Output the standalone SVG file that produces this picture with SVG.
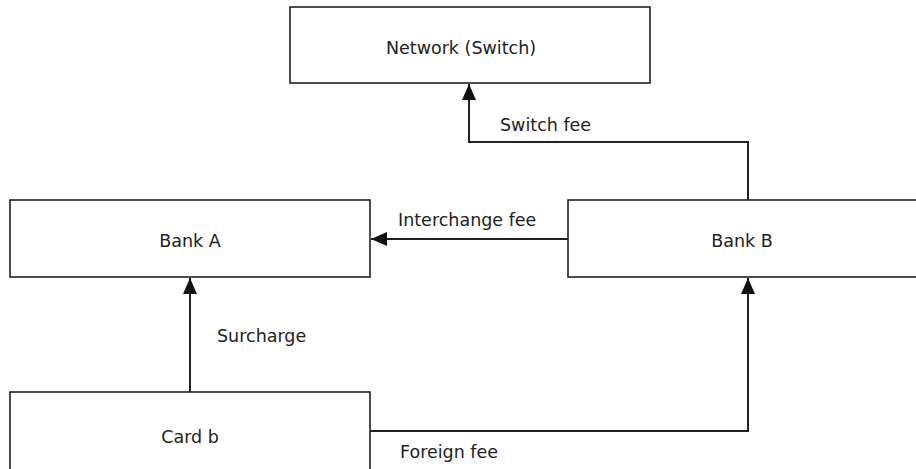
<svg xmlns="http://www.w3.org/2000/svg" width="916" height="469" viewBox="0 0 916 469">
<style>
.box{fill:#fff;stroke:#222;stroke-width:1.6}
.lbl{font-family:"DejaVu Sans",sans-serif;font-size:17.5px;fill:#222}
.mid{text-anchor:middle}
.con{fill:none;stroke:#222;stroke-width:2}
</style>
<defs>
<marker id="ah" viewBox="0 0 16 14" refX="16" refY="7" markerWidth="16" markerHeight="14" markerUnits="userSpaceOnUse" orient="auto">
<path d="M0,0 L16,7 L0,14 z" fill="#111"/>
</marker>
</defs>
<rect width="916" height="469" fill="#fff"/>
<g id="network"><rect class="box" x="290" y="7" width="360" height="76"/><text class="lbl mid" x="461" y="54">Network (Switch)</text></g>
<g id="bankA"><rect class="box" x="10" y="200" width="360" height="77"/><text class="lbl mid" x="190" y="247">Bank A</text></g>
<g id="bankB"><rect class="box" x="568" y="200" width="360" height="77"/><text class="lbl mid" x="742" y="247">Bank B</text></g>
<g id="cardB"><rect class="box" x="10" y="392" width="360" height="90"/><text class="lbl mid" x="190" y="443">Card b</text></g>
<g id="connectors">
<path class="con" d="M748,200 V142 H469 V84" marker-end="url(#ah)"/>
<path class="con" d="M568,239 H371" marker-end="url(#ah)"/>
<path class="con" d="M190,392 V278" marker-end="url(#ah)"/>
<path class="con" d="M370,431 H748 V278" marker-end="url(#ah)"/>
<text class="lbl" x="500" y="131">Switch fee</text>
<text class="lbl" x="398" y="226">Interchange fee</text>
<text class="lbl" x="217" y="342">Surcharge</text>
<text class="lbl" x="400" y="458">Foreign fee</text>
</g>
</svg>
